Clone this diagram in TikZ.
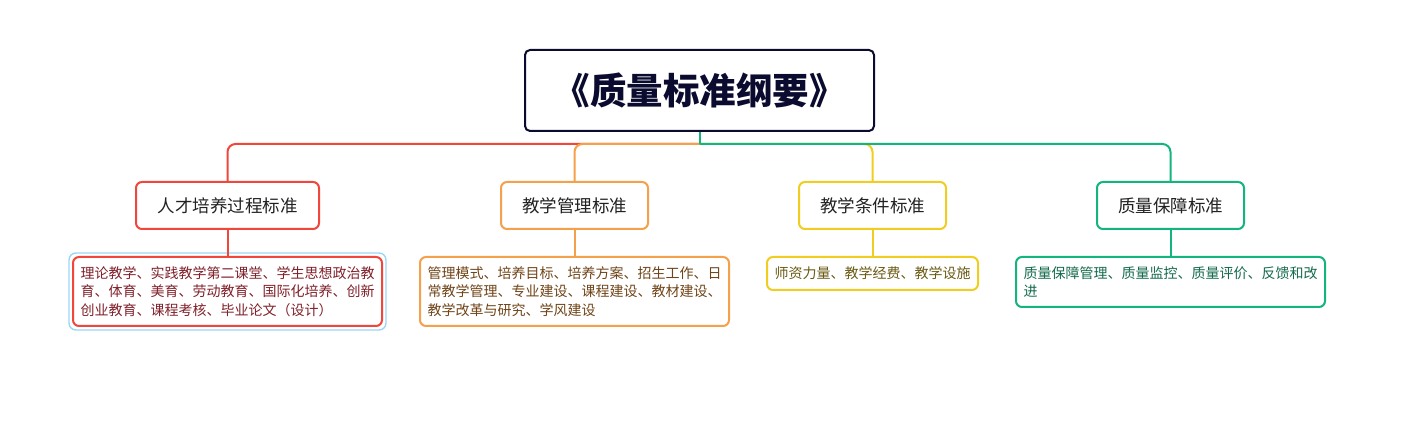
\documentclass[tikz,border=0pt]{standalone}
\usepackage{fontspec}
\newfontfamily\cjk{Noto Sans CJK SC}
\definecolor{cred}{HTML}{F1463C}
\definecolor{corange}{HTML}{F5A04A}
\definecolor{cyellow}{HTML}{F0CD20}
\definecolor{cgreen}{HTML}{13B57C}
\definecolor{cnavy}{HTML}{0B0B30}
\definecolor{cblue}{HTML}{9AD6F5}
\definecolor{tred}{HTML}{80202A}
\definecolor{torange}{HTML}{704418}
\definecolor{tyellow}{HTML}{6B5A14}
\definecolor{tgreen}{HTML}{146B4C}
\definecolor{tdark}{HTML}{222222}
\tikzset{
  rootbox/.style={draw=cnavy, line width=2pt, rounded corners=5pt, fill=white,
    minimum width=349pt, minimum height=81pt, inner sep=0pt,
    font=\cjk\bfseries\fontsize{36.5}{40}\selectfont, text=cnavy},
  topicbox/.style={draw=#1, line width=2pt, rounded corners=6pt, fill=white,
    minimum width=147pt, minimum height=47pt, inner sep=0pt,
    font=\cjk\fontsize{17.5}{20}\selectfont, text=tdark},
  leafbox/.style={draw=#1, line width=2pt, rounded corners=6pt, fill=white,
    anchor=north, inner xsep=7.5pt, inner ysep=6pt, align=left,
    font=\cjk\fontsize{14}{18.5}\selectfont},
  link/.style={draw=#1, line width=2pt},
}
\begin{document}
\begin{tikzpicture}[x=1pt,y=-1pt]
\useasboundingbox (0,0) rectangle (1414,435);
% root
\node[rootbox] (root) at (699.5,90.5) {《质量标准纲要》};
\coordinate (hub) at (699.5,144);
% level 1
\node[topicbox=cred, minimum width=183pt] (t1) at (227.5,205.5) {人才培养过程标准};
\node[topicbox=corange] (t2) at (574.5,205.5) {教学管理标准};
\node[topicbox=cyellow] (t3) at (872.5,205.5) {教学条件标准};
\node[topicbox=cgreen] (t4) at (1170.5,205.5) {质量保障标准};
% level 2
\node[leafbox=cred, text=tred, minimum width=309pt, minimum height=69pt] (l1) at (227.5,256)
  {理论教学、实践教学第二课堂、学生思想政治教\\育、体育、美育、劳动教育、国际化培养、创新\\创业教育、课程考核、毕业论文（设计）};
\draw[cblue, line width=1.4pt, rounded corners=7pt] ([shift={(-3,3)}]l1.south west) rectangle ([shift={(3,-3)}]l1.north east);
\node[leafbox=corange, text=torange, minimum width=309pt, minimum height=69pt] (l2) at (574.5,256)
  {管理模式、培养目标、培养方案、招生工作、日\\常教学管理、专业建设、课程建设、教材建设、\\教学改革与研究、学风建设};
\node[leafbox=cyellow, text=tyellow, minimum width=211pt, minimum height=33pt] (l3) at (872.5,256)
  {师资力量、教学经费、教学设施};
\node[leafbox=cgreen, text=tgreen, minimum width=309pt, minimum height=50pt] (l4) at (1170.5,256)
  {质量保障管理、质量监控、质量评价、反馈和改\\进};
% connectors
\draw[link=cred, rounded corners=8pt] (hub) -| (t1.north);
\draw[link=corange, rounded corners=8pt] (hub) -| (t2.north);
\draw[link=cyellow, rounded corners=8pt] (hub) -| (t3.north);
\draw[link=cgreen, rounded corners=8pt] (hub) -| (t4.north);
\draw[link=cgreen] (root.south) -- (hub);
\draw[link=cred] (t1.south) -- (l1.north);
\draw[link=corange] (t2.south) -- (l2.north);
\draw[link=cyellow] (t3.south) -- (l3.north);
\draw[link=cgreen] (t4.south) -- (l4.north);
\end{tikzpicture}
\end{document}
